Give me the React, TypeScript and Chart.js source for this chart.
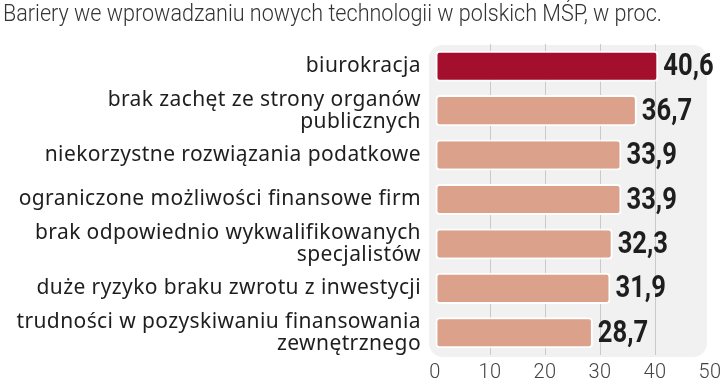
import React, { useEffect, useRef } from "react";
import { Chart, registerables } from "chart.js";

Chart.register(...registerables);

const TITLE = "Bariery we wprowadzaniu nowych technologii w polskich MŚP, w proc.";
const categories: (string | string[])[] = [
  "biurokracja",
  ["brak zachęt ze strony organów", "publicznych"],
  "niekorzystne rozwiązania podatkowe",
  "ograniczone możliwości finansowe firm",
  ["brak odpowiednio wykwalifikowanych", "specjalistów"],
  "duże ryzyko braku zwrotu z inwestycji",
  ["trudności w pozyskiwaniu finansowania", "zewnętrznego"],
];
const values = [40.6, 36.7, 33.9, 33.9, 32.3, 31.9, 28.7];
const xTicks = [0, 10, 20, 30, 40, 50];

const HIGHLIGHT = "#a30f2d";
const BASE = "#dca18b";

const titlePlugin = {
  id: "customTitle",
  afterDraw(chart: any) {
    const { ctx } = chart;
    ctx.save();
    (ctx as any).letterSpacing = "0px";
    ctx.font = "300 24px Roboto, sans-serif";
    ctx.fillStyle = "#333333";
    ctx.textBaseline = "alphabetic";
    ctx.textAlign = "left";
    const w = ctx.measureText(TITLE).width;
    const sx = 659 / w;
    ctx.translate(3, 21);
    ctx.scale(sx, 1);
    ctx.fillText(TITLE, 0, 0);
    ctx.restore();
  },
};

const panelPlugin = {
  id: "panel",
  beforeDraw(chart: any) {
    const { ctx, chartArea } = chart;
    (ctx as any).letterSpacing = "0.4px";
    const x0 = chartArea.left - 6;
    const y0 = chartArea.top + 1;
    const x1 = 707;
    const y1 = chartArea.bottom + 2;
    ctx.save();
    ctx.fillStyle = "#f1f1f1";
    ctx.beginPath();
    (ctx as any).roundRect(x0, y0, x1 - x0, y1 - y0, 14);
    ctx.fill();
    ctx.restore();
  },
};

const valueLabels = {
  id: "valueLabels",
  afterDatasetsDraw(chart: any) {
    const { ctx } = chart;
    const meta = chart.getDatasetMeta(0);
    ctx.save();
    (ctx as any).letterSpacing = "0px";
    ctx.fillStyle = "#1e1e1e";
    ctx.font = "bold 32px Roboto, sans-serif";
    ctx.textAlign = "left";
    ctx.textBaseline = "middle";
    meta.data.forEach((bar: any, i: number) => {
      const txt = values[i].toFixed(1).replace(".", ",");
      ctx.save();
      ctx.translate(bar.x + 5, bar.y + 1);
      ctx.scale(0.8, 1);
      ctx.fillText(txt, 0, 0);
      ctx.restore();
    });
    ctx.restore();
  },
};

export default function App() {
  const ref = useRef<HTMLCanvasElement>(null);
  useEffect(() => {
    document.body.style.margin = "0";
    const chart = new Chart(ref.current!, {
      type: "bar",
      data: {
        labels: categories,
        datasets: [
          {
            data: values,
            backgroundColor: values.map((_, i) => (i === 0 ? HIGHLIGHT : BASE)),
            borderColor: "#ffffff",
            borderWidth: 2,
            borderRadius: 4,
            borderSkipped: false,
            categoryPercentage: 1,
            barPercentage: 0.7,
          },
        ],
      },
      options: {
        indexAxis: "y",
        animation: false,
        responsive: false,
        maintainAspectRatio: false,
        layout: { padding: { left: 0, right: 0, top: 44, bottom: 0 } },
        plugins: {
          legend: { display: false },
          tooltip: { enabled: false },
          title: { display: false },
        },
        scales: {
          x: {
            min: 0,
            max: 50,
            afterBuildTicks: (s: any) => {
              s.ticks = xTicks.map((v) => ({ value: v }));
            },
            afterFit: (s: any) => {
              s.height = 29;
              s.paddingRight = 10;
              s.paddingLeft = 0;
            },
            border: { display: false },
            grid: {
              color: (c: any) => (c.tick && (c.tick.value === 0 || c.tick.value === 50) ? "rgba(0,0,0,0)" : "#c9c9c9"),
              lineWidth: 1,
              drawTicks: false,
            },
            ticks: {
              color: "#444444",
              padding: 6,
              font: { family: "Roboto, sans-serif", size: 20, weight: "300" },
            },
          },
          y: {
            afterFit: (s: any) => {
              s.width = 435;
            },
            border: { display: false },
            grid: { display: false, drawTicks: false },
            ticks: {
              autoSkip: false,
              color: "#1e1e1e",
              padding: 14,
              font: { family: "'Noto Sans', sans-serif", size: 21, lineHeight: 1.05 },
            },
          },
        },
      },
      plugins: [panelPlugin, valueLabels, titlePlugin],
    });
    return () => chart.destroy();
  }, []);
  return (
    <div style={{ position: "absolute", left: 0, top: 0, width: 720, height: 384, background: "#fff" }}>
      <canvas ref={ref} width={720} height={384} />
    </div>
  );
}
